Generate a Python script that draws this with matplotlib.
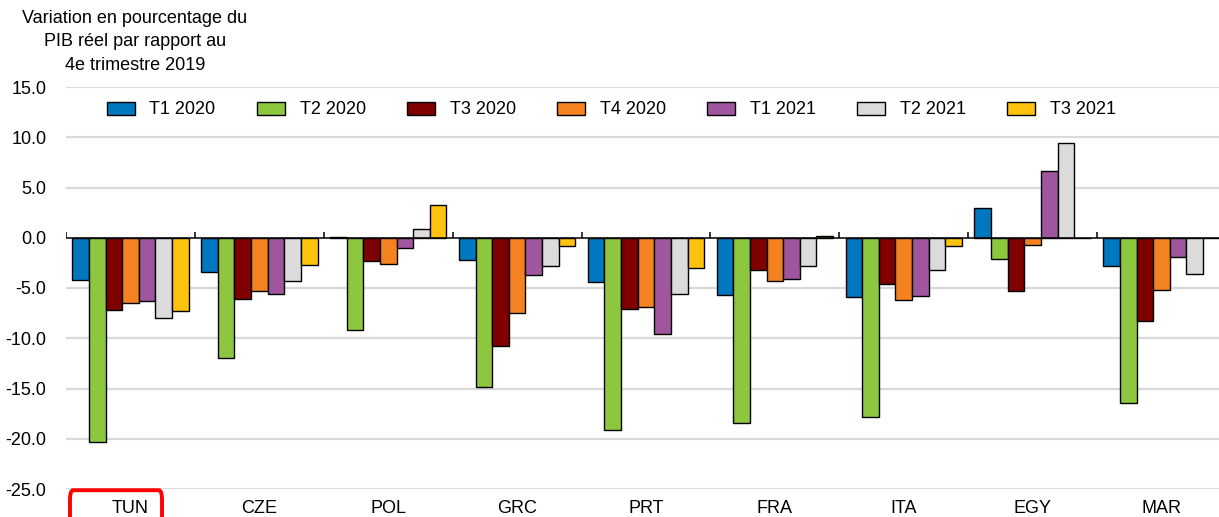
import matplotlib
matplotlib.use("Agg")
import matplotlib.pyplot as plt
import numpy as np
from matplotlib.patches import FancyBboxPatch, Patch
import matplotlib.transforms as mtrans

plt.rcParams['font.family'] = ['Liberation Sans', 'DejaVu Sans']

countries = ["TUN", "CZE", "POL", "GRC", "PRT", "FRA", "ITA", "EGY", "MAR"]
series_names = ["T1 2020", "T2 2020", "T3 2020", "T4 2020", "T1 2021", "T2 2021", "T3 2021"]
t1_2020 = [-4.2, -3.4, 0.1, -2.2, -4.4, -5.7, -5.9, 2.95, -2.8]
t2_2020 = [-20.3, -12.0, -9.2, -14.9, -19.1, -18.45, -17.8, -2.15, -16.4]
t3_2020 = [-7.2, -6.1, -2.3, -10.75, -7.1, -3.2, -4.6, -5.3, -8.3]
t4_2020 = [-6.45, -5.3, -2.6, -7.5, -6.9, -4.3, -6.15, -0.7, -5.15]
t1_2021 = [-6.25, -5.6, -1.0, -3.7, -9.55, -4.15, -5.8, 6.6, -1.9]
t2_2021 = [-8.0, -4.3, 0.9, -2.8, -5.6, -2.85, -3.25, 9.45, -3.6]
t3_2021 = [-7.25, -2.75, 3.3, -0.8, -3.0, 0.15, -0.85, 0.0, 0.0]
yticks = [15, 10, 5, 0, -5, -10, -15, -20, -25]
ylabel_text = "Variation en pourcentage du\nPIB réel par rapport au\n4e trimestre 2019"

series = [t1_2020, t2_2020, t3_2020, t4_2020, t1_2021, t2_2021, t3_2021]
colors = ["#0077BF", "#8DC63F", "#800000", "#F58220", "#A0559F", "#DBDBDB", "#FFC20E"]

W, H = 1219, 517
fig = plt.figure(figsize=(W / 100, H / 100), dpi=100)
left, right, top, bottom = 66, 1226, 87, 489
ax = fig.add_axes([left / W, (H - bottom) / H, (right - left) / W, (bottom - top) / H])

n = len(countries)
x = np.arange(n)
bw = 0.129
for i, (vals, c) in enumerate(zip(series, colors)):
    ax.bar(x + (i - 3) * bw, vals, width=bw, color=c, edgecolor="black",
           linewidth=1.0, zorder=3, label=series_names[i])

ax.set_xlim(-0.5, n - 0.5)
ax.set_ylim(-25, 15)
ax.set_yticks(yticks)
ax.set_yticklabels([f"{v:.1f}" for v in yticks])
ax.set_xticks(x)
ax.set_xticklabels(countries)
ax.tick_params(axis="y", length=0, pad=14, labelsize=13)
ax.tick_params(axis="x", length=0, pad=8, labelsize=13)
for s in ax.spines.values():
    s.set_visible(False)
for v in yticks:
    if v != 0:
        ax.axhline(v, color="#d9d9d9", linewidth=1.6, zorder=1)
ax.axhline(0, color="black", linewidth=1.1, zorder=4)
bounds = np.arange(n + 1) - 0.5
ax.vlines(bounds, 0, 0.6, color="black", linewidth=1.1, zorder=4)

fig.text(135 / W, 1 - 10 / H, ylabel_text, ha="center", va="top", fontsize=13,
         linespacing=1.5)

handles = [Patch(facecolor=c, edgecolor="black", linewidth=1.0) for c in colors]
leg = fig.legend(handles, series_names, loc="center left",
                 bbox_to_anchor=(107 / W, 1 - 110 / H), ncol=7, frameon=False,
                 fontsize=13, handlelength=1.55, handleheight=0.72,
                 handletextpad=0.8, columnspacing=2.3, borderpad=0, borderaxespad=0)

# red highlight box around TUN label
trans = mtrans.blended_transform_factory(ax.transData, ax.transAxes)
box = FancyBboxPatch((-0.469, -0.12), 0.714, 0.117,
                     boxstyle="round,pad=0,rounding_size=0.025",
                     transform=trans, fill=False, edgecolor="#FF0000",
                     linewidth=2.8, clip_on=False, zorder=5,
                     mutation_aspect=1)
ax.add_patch(box)

fig.savefig("out.png", dpi=100)
